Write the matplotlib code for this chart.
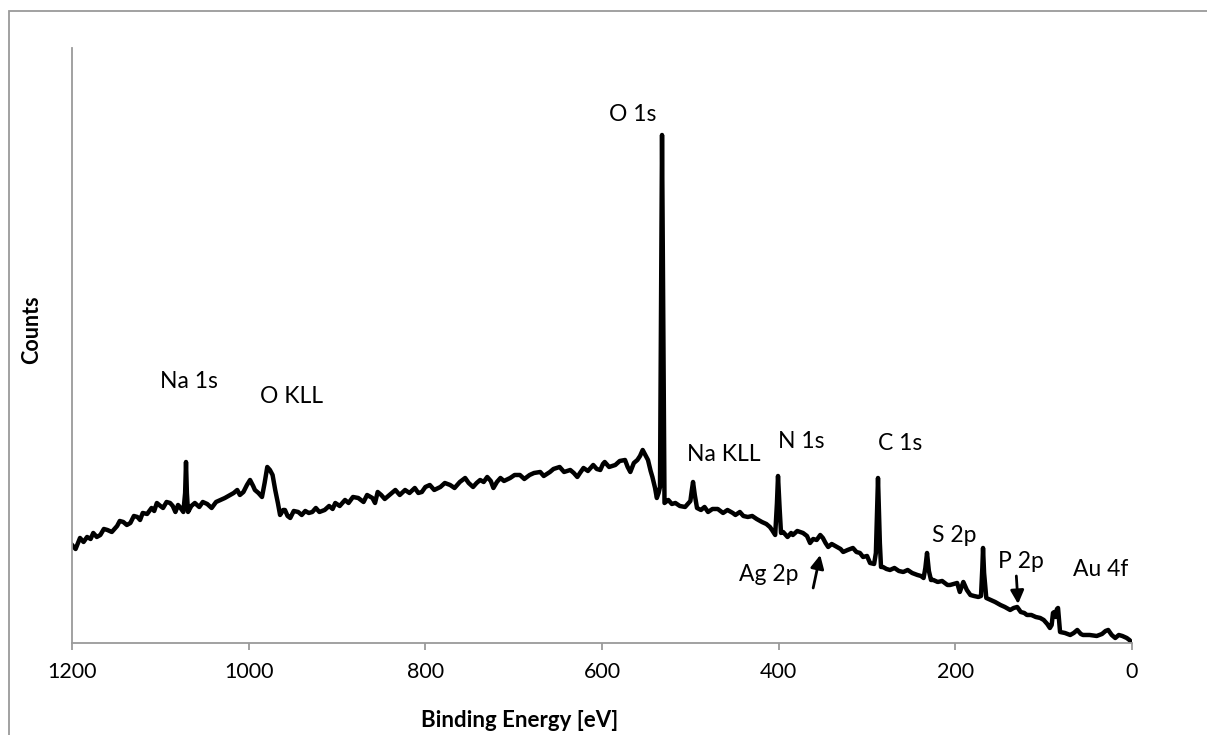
import matplotlib
matplotlib.use("Agg")
import matplotlib.pyplot as plt
from matplotlib.patches import Rectangle

plt.rcParams['font.family'] = ['Lato', 'DejaVu Sans']

# XPS survey spectrum (counts in arbitrary units)
energy = [1200, 1196, 1191, 1187, 1183, 1179, 1176, 1172, 1168, 1164,
          1160, 1155, 1149, 1146, 1142, 1138, 1134, 1130, 1126, 1123,
          1120, 1115, 1110, 1107, 1104, 1100, 1097, 1093, 1089, 1086,
          1083, 1080, 1078, 1074, 1072, 1071, 1070, 1068.7, 1065, 1061,
          1056, 1052, 1047, 1042, 1037, 1032, 1027, 1021, 1017, 1013,
          1010, 1006, 1002, 998.5, 995, 993, 989, 985, 982, 979,
          976, 973, 970, 967, 964.5, 961, 959, 956, 953, 949,
          944, 940, 936, 932, 928, 924, 920, 914, 909, 905,
          902, 897, 891, 887, 882, 876, 870, 866, 860, 857,
          854, 850, 846, 838, 834, 829, 823, 818, 812, 808,
          804, 800, 795, 790, 783, 778, 772, 767, 761, 758,
          755, 751, 746, 742, 738, 734, 730, 726, 723, 719,
          715, 711, 704, 699, 693, 688, 682, 677, 670, 666,
          659, 655, 648, 643, 636, 632, 628, 625, 621, 616,
          610, 606, 602, 599, 597, 592, 585, 580, 574, 571,
          568, 564, 560, 557, 554, 551, 548, 545, 543, 540,
          538, 536, 534.4, 532.1, 529.3, 525, 521, 517, 512, 506,
          502, 500, 498.5, 497, 495, 492.5, 488, 484, 480, 475,
          469, 463, 458, 452, 449, 444, 440, 435, 430, 425,
          419, 414, 410, 407.6, 404, 402, 400.8, 399, 397.4, 395,
          390, 386, 384, 379, 372.5, 368, 364.5, 361, 357, 353,
          350, 347, 344, 340, 334, 330, 327, 322, 316, 312,
          308, 304.5, 300, 296.6, 292, 290, 287.6, 285.5, 284.2, 282,
          278, 274, 269, 264, 259, 254, 249, 243, 239, 236,
          234, 232.1, 230, 227.6, 225, 220, 215, 209, 206, 202,
          198, 195, 191, 187, 183, 179, 174, 171, 169.5, 168.7,
          167.5, 165, 160, 155, 149, 144, 138, 134, 130, 126,
          122, 119, 114, 109, 104, 100, 96, 93, 91, 89.5,
          88, 86.5, 85, 83.8, 82.5, 81.5, 76, 70, 66, 62,
          58, 55.5, 48, 40, 34, 30, 27, 23, 19, 15,
          11, 6, 3, 0]
counts = [98, 94, 105, 101, 106, 104, 110, 106, 108, 114,
          113, 111, 117, 122, 121, 118, 120, 127, 126, 123,
          130, 129, 135, 132, 140, 137, 135, 141, 140, 137,
          131, 138, 136, 131, 150, 181, 150, 131, 137, 140,
          136, 141, 139, 135, 141, 143, 145, 148, 150, 153,
          148, 151, 158, 163, 157, 153, 150, 146, 160, 176,
          173, 168, 153, 140, 128, 133, 133, 127, 125, 132,
          131, 128, 132, 130, 131, 135, 131, 133, 137, 134,
          140, 137, 143, 140, 146, 145, 141, 148, 145, 140,
          151, 148, 144, 150, 153, 148, 153, 150, 155, 150,
          151, 156, 158, 153, 156, 160, 158, 155, 161, 163,
          165, 160, 156, 160, 163, 161, 166, 162, 155, 161,
          165, 162, 165, 168, 168, 164, 168, 170, 171, 167,
          171, 174, 176, 171, 173, 170, 166, 170, 175, 172,
          178, 174, 173, 179, 181, 176, 178, 182, 183, 176,
          171, 180, 183, 187, 193, 188, 183, 172, 166, 155,
          145, 150, 156, 508, 140, 143, 139, 140, 137, 136,
          140, 142, 152, 161, 148, 135, 133, 136, 131, 134,
          134, 130, 133, 130, 128, 131, 127, 126, 127, 124,
          121, 119, 116, 113, 108, 140, 167, 135, 110, 111,
          106, 110, 108, 112, 110, 107, 100, 104, 103, 108,
          105, 100, 96, 99, 96, 94, 91, 93, 95, 91,
          90, 86, 87, 80, 79, 90, 165, 100, 76, 76,
          74, 73, 75, 72, 71, 73, 70, 68, 67, 65,
          75, 90, 72, 63, 63, 61, 62, 58, 58, 59,
          60, 51, 61, 53, 48, 47, 46, 47, 75, 95,
          70, 45, 43, 41, 38, 36, 33, 35, 36, 31,
          30, 28, 28, 26, 25, 23, 19, 15, 18, 30,
          31, 26, 34, 35, 22, 11, 10, 8, 10, 13,
          9, 8, 8, 7, 9, 12, 13, 8, 5, 8,
          7, 5, 3, 0]

peak_labels = ['O 1s', 'Na 1s', 'O KLL', 'Na KLL', 'N 1s', 'C 1s', 'S 2p', 'P 2p', 'Au 4f', 'Ag 2p']
label_pos = [(565, 528), (1068, 261), (952, 246), (462, 188), (375, 201),
             (263, 199), (201, 107), (126, 81), (36, 73), (411, 68)]

fig = plt.figure(figsize=(12.07, 7.35), dpi=100)
ax = fig.add_axes([0.0597, 0.1252, 0.8782, 0.8095])

ax.plot(energy, counts, color='black', lw=3.2, solid_joinstyle='round')

ax.set_xlim(1200, 0)
ax.set_ylim(0, 595)
ax.set_xticks([1200, 1000, 800, 600, 400, 200, 0])
ax.set_yticks([])

for s in ['top', 'right']:
    ax.spines[s].set_visible(False)
for s in ['left', 'bottom']:
    ax.spines[s].set_color('#9a9a9a')
    ax.spines[s].set_linewidth(1.3)
ax.tick_params(axis='x', direction='out', length=5, width=1.3, color='#9a9a9a',
               labelsize=15.5, pad=9)

ax.set_xlabel('Binding Energy [eV]', fontsize=16, fontweight='bold')
ax.xaxis.set_label_coords(0.422, -0.112)
ax.set_ylabel('Counts', fontsize=15.5, fontweight='bold')
ax.yaxis.set_label_coords(-0.028, 0.526)

for lab, (x, y) in zip(peak_labels, label_pos):
    ax.text(x, y, lab, fontsize=16.5, ha='center', va='center')

# arrows for the small peaks
arrow_style = dict(arrowstyle='-|>', color='black', lw=2, mutation_scale=20,
                   shrinkA=0, shrinkB=0)
ax.annotate('', xy=(353, 88), xytext=(361, 55), arrowprops=arrow_style)
ax.annotate('', xy=(129, 39), xytext=(131, 67), arrowprops=arrow_style)

# chart area border
fig.patches.append(Rectangle((9 / 1207, -0.1), 1.2, 1 - 11 / 735 + 0.1, transform=fig.transFigure,
                             fill=False, edgecolor='#9a9a9a', lw=1.3))

fig.savefig('out.png', dpi=100)
